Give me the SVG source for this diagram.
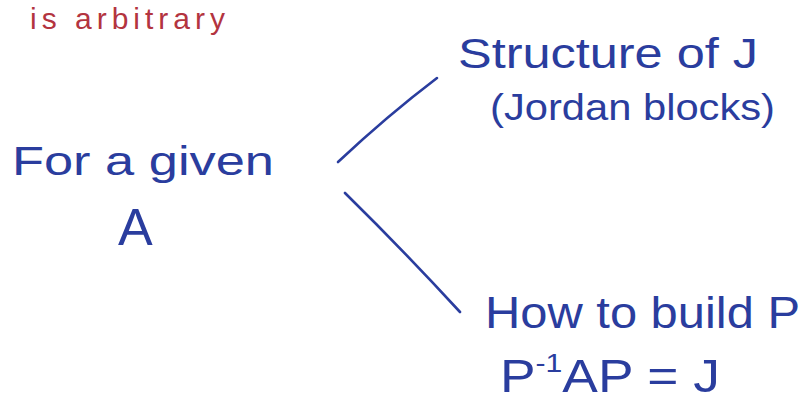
<svg xmlns="http://www.w3.org/2000/svg" width="811" height="416" viewBox="0 0 811 416">
<style>
.hw{font-family:"Liberation Sans","DejaVu Sans",sans-serif;fill:#2a3d9e;}
.red{font-family:"Liberation Sans","DejaVu Sans",sans-serif;fill:#b3343f;}
.edge{fill:none;stroke:#2a3d9e;stroke-width:2.6;stroke-linecap:round;}
</style>
<rect width="811" height="416" fill="#ffffff"/>
<g id="note">
<text class="red" x="30" y="29" font-size="30" textLength="195" lengthAdjust="spacing">is arbitrary</text>
</g>
<g id="given">
<text class="hw" x="12" y="175" font-size="40" textLength="262" lengthAdjust="spacingAndGlyphs">For a given</text>
<text class="hw" x="118" y="245" font-size="52">A</text>
</g>
<g id="structure">
<text class="hw" x="458" y="68" font-size="42" textLength="300" lengthAdjust="spacingAndGlyphs">Structure of J</text>
<text class="hw" x="490" y="120" font-size="36" textLength="285" lengthAdjust="spacingAndGlyphs">(Jordan blocks)</text>
</g>
<g id="build">
<text class="hw" x="485" y="328" font-size="44" textLength="315" lengthAdjust="spacingAndGlyphs">How to build P</text>
<text class="hw" x="500" y="392" font-size="46" textLength="220" lengthAdjust="spacingAndGlyphs">P<tspan font-size="26" dy="-20">-1</tspan><tspan dy="20">AP = J</tspan></text>
</g>
<g id="connectors">
<path class="edge" d="M338,162 Q387,116 437,78"/>
<path class="edge" d="M345,193 Q403,250 460,312"/>
</g>
</svg>
